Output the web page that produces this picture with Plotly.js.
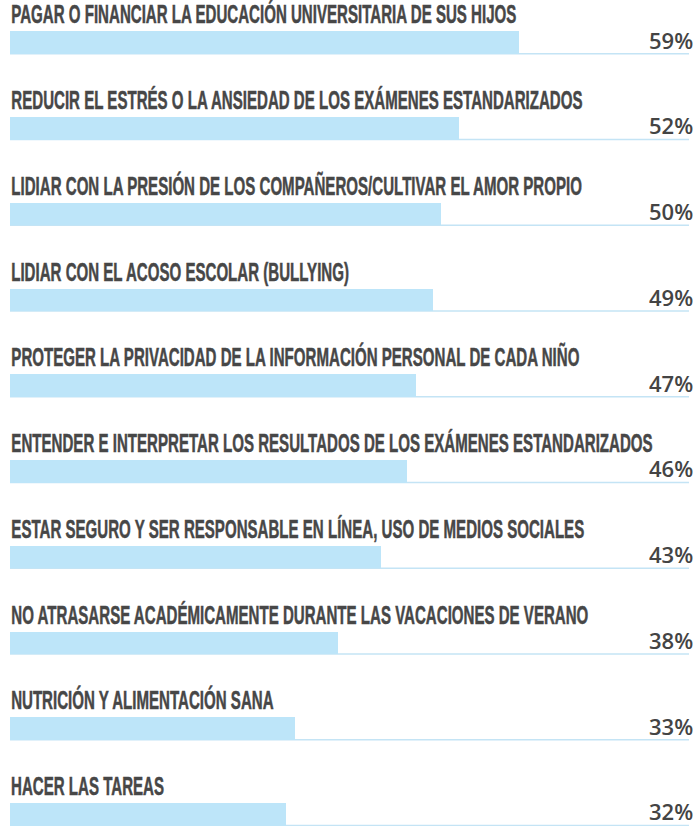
<!DOCTYPE html>
<html>
<head>
<meta charset="utf-8">
<script src="https://cdn.plot.ly/plotly-3.0.1.min.js"></script>
<style>html,body{margin:0;padding:0;background:#fff}</style>
</head>
<body>
<div id="chart" style="width:700px;height:826px"></div>
<script>
const categories = [
  "PAGAR O FINANCIAR LA EDUCACIÓN UNIVERSITARIA DE SUS HIJOS",
  "REDUCIR EL ESTRÉS O LA ANSIEDAD DE LOS EXÁMENES ESTANDARIZADOS",
  "LIDIAR CON LA PRESIÓN DE LOS COMPAÑEROS/CULTIVAR EL AMOR PROPIO",
  "LIDIAR CON EL ACOSO ESCOLAR (BULLYING)",
  "PROTEGER LA PRIVACIDAD DE LA INFORMACIÓN PERSONAL DE CADA NIÑO",
  "ENTENDER E INTERPRETAR LOS RESULTADOS DE LOS EXÁMENES ESTANDARIZADOS",
  "ESTAR SEGURO Y SER RESPONSABLE EN LÍNEA, USO DE MEDIOS SOCIALES",
  "NO ATRASARSE ACADÉMICAMENTE DURANTE LAS VACACIONES DE VERANO",
  "NUTRICIÓN Y ALIMENTACIÓN SANA",
  "HACER LAS TAREAS"
];
const values = [59, 52, 50, 49, 47, 46, 43, 38, 33, 32];
const valueLabels = ["59%", "52%", "50%", "49%", "47%", "46%", "43%", "38%", "33%", "32%"];

const XMAX = 78.7;
const BARW = 0.262;
const pos = categories.map((c, i) => i);

const trace = {
  type: 'bar',
  orientation: 'h',
  x: values,
  y: pos,
  width: BARW,
  marker: {color: '#bde5f9', line: {width: 0}},
  hoverinfo: 'skip'
};

const shapes = pos.map(p => ({
  type: 'line', xref: 'x', yref: 'y',
  x0: 0, x1: XMAX, y0: p + BARW / 2, y1: p + BARW / 2,
  line: {color: '#c4e4f5', width: 1.5},
  layer: 'below'
}));

const annotations = [];
pos.forEach((p, i) => {
  annotations.push({
    xref: 'x', yref: 'y', x: 0, y: p - BARW / 2,
    xanchor: 'left', yanchor: 'bottom', yshift: 1, xshift: -1,
    text: categories[i], showarrow: false, name: 'cat',
    font: {family: '"Liberation Sans", Arial, sans-serif', size: 25, color: '#474747', weight: 700}
  });
  annotations.push({
    xref: 'x', yref: 'y', x: XMAX, y: p,
    xanchor: 'right', yanchor: 'middle', yshift: 3, xshift: 6,
    text: valueLabels[i], showarrow: false, name: 'val',
    font: {family: '"Open Sans", sans-serif', size: 22, color: '#444444', weight: 600}
  });
});

const layout = {
  width: 700, height: 826,
  margin: {l: 10, r: 11, t: 0, b: 0},
  paper_bgcolor: '#ffffff', plot_bgcolor: '#ffffff',
  showlegend: false,
  xaxis: {range: [0, XMAX], visible: false, fixedrange: true},
  yaxis: {range: [9.136, -0.4956], visible: false, fixedrange: true},
  bargap: 0,
  shapes: shapes,
  annotations: annotations
};

Plotly.newPlot('chart', [trace], layout, {displayModeBar: false, staticPlot: true}).then(gd => {
  // condense the category labels horizontally, like the reference's condensed typeface
  const groups = gd.querySelectorAll('.annotation');
  const texts = [];
  groups.forEach((g, k) => { if (k % 2 === 0) texts.push(g.querySelector('text.annotation-text')); });
  const ref = texts[5].getBBox().width;
  const s = 642 / ref;
  texts.forEach(t => {
    const b = t.getBBox();
    t.setAttribute('transform', `translate(${b.x * (1 - s)},0) scale(${s},1)`);
    t.style.stroke = '#474747';
    t.style.strokeWidth = '0.5px';
  });
});
</script>
</body>
</html>
